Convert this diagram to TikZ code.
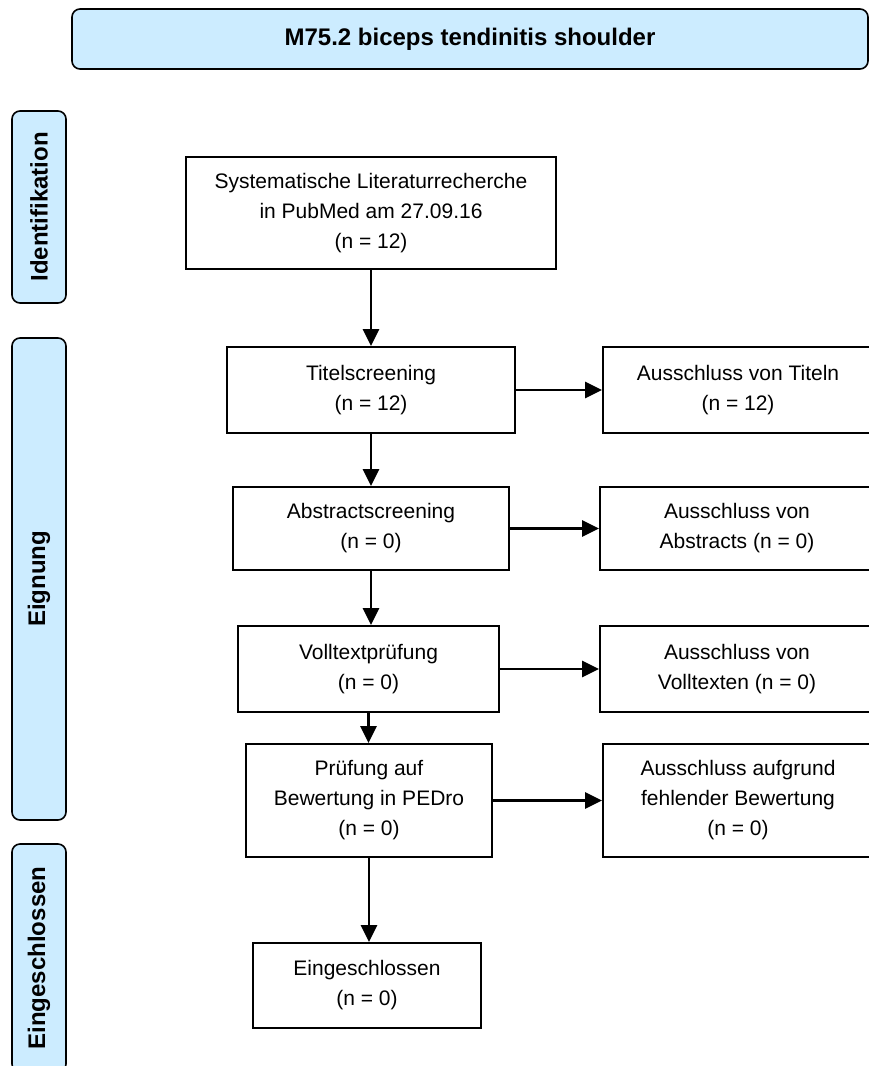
\documentclass[tikz,border=0pt]{standalone}
\usepackage{fontspec}
\setmainfont{Liberation Sans}
\usetikzlibrary{arrows.meta}
\definecolor{lblue}{HTML}{CCECFF}
\begin{document}
\begin{tikzpicture}[x=1pt,y=-1pt,
  box/.style={draw=black, line width=1.8pt, fill=white, align=center, inner sep=0pt,
              font=\fontsize{21}{30}\selectfont},
  side/.style={draw=black, line width=1.6pt, fill=lblue, rounded corners=8pt, inner sep=0pt,
              font=\fontsize{24}{28}\selectfont\bfseries},
  arr/.style={line width=2.8pt, -{Triangle[length=17pt,width=16pt]}}]
\useasboundingbox (0,0) rectangle (869,1066);
\clip (0,0) rectangle (869,1066);

% title
\node[side, minimum width=796pt, minimum height=60pt] (title) at (470,39) {M75.2 biceps tendinitis shoulder};

% side labels
\node[side, rotate=90, minimum width=192pt, minimum height=54pt] (ident) at (39,207) {Identifikation};
\node[side, rotate=90, minimum width=482pt, minimum height=54pt] (eign) at (39,579) {Eignung};
\node[side, rotate=90, minimum width=228pt, minimum height=54pt] (einge) at (39,958) {Eingeschlossen};

% main boxes
\node[box, minimum width=370pt, minimum height=112pt] (b1) at (371,213)
  {Systematische Literaturrecherche\\in PubMed am 27.09.16\\(n = 12)};
\node[box, minimum width=288pt, minimum height=86pt] (b2) at (371,390)
  {Titelscreening\\(n = 12)};
\node[box, minimum width=276pt, minimum height=83pt] (b3) at (371,528.5)
  {Abstractscreening\\(n = 0)};
\node[box, minimum width=261pt, minimum height=86pt] (b4) at (368.5,669)
  {Volltextprüfung\\(n = 0)};
\node[box, minimum width=246pt, minimum height=113pt] (b5) at (369,800.5)
  {Prüfung auf\\Bewertung in PEDro\\(n = 0)};
\node[box, minimum width=228pt, minimum height=85pt] (b6) at (367,985.5)
  {Eingeschlossen\\(n = 0)};

% exclusion boxes
\node[box, minimum width=270pt, minimum height=86pt] (r1) at (738,390)
  {Ausschluss von Titeln\\(n = 12)};
\node[box, minimum width=274pt, minimum height=83pt] (r2) at (737,528.5)
  {Ausschluss von\\Abstracts (n = 0)};
\node[box, minimum width=274pt, minimum height=86pt] (r3) at (737,669)
  {Ausschluss von\\Volltexten (n = 0)};
\node[box, minimum width=270pt, minimum height=113pt] (r4) at (738,800.5)
  {Ausschluss aufgrund\\fehlender Bewertung\\(n = 0)};

% vertical arrows
\draw[arr] (b1.south) -- (b1.south |- b2.north);
\draw[arr] (b2.south) -- (b2.south |- b3.north);
\draw[arr] (b3.south) -- (b3.south |- b4.north);
\draw[arr] (b4.south) -- (b4.south |- b5.north);
\draw[arr] (b5.south) -- (b5.south |- b6.north);

% horizontal arrows
\draw[arr] (b2.east) -- (r1.west |- b2.east);
\draw[arr] (b3.east) -- (r2.west |- b3.east);
\draw[arr] (b4.east) -- (r3.west |- b4.east);
\draw[arr] (b5.east) -- (r4.west |- b5.east);
\end{tikzpicture}
\end{document}
